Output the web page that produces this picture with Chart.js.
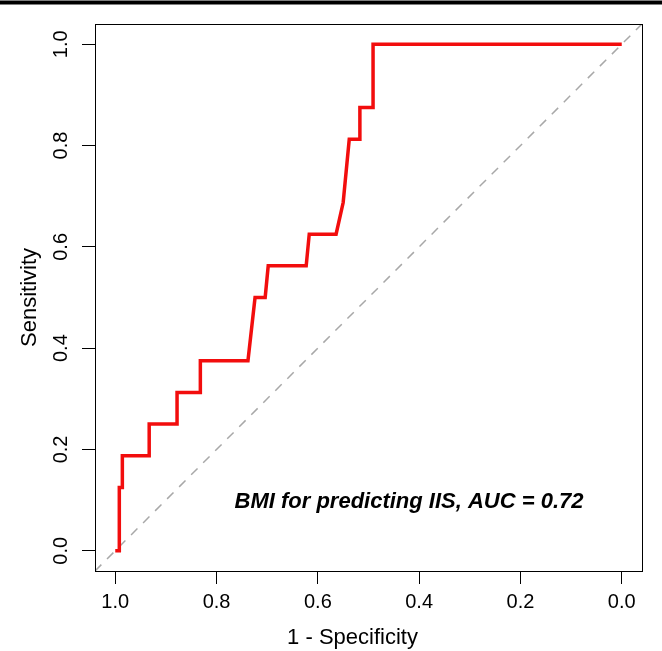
<!DOCTYPE html>
<html>
<head>
<meta charset="utf-8">
<title>ROC curve – BMI</title>
<script src="https://cdn.jsdelivr.net/npm/chart.js@4/dist/chart.umd.min.js"></script>
<style>
  html, body { margin: 0; padding: 0; background: #fff; }
  #wrap { width: 662px; height: 651px; position: relative; }
</style>
</head>
<body>
<div id="wrap"><canvas id="roc" width="662" height="651"></canvas></div>
<script>
// ROC curve points (specificity on a reversed axis, sensitivity)
const specificity = [1.000, 0.992, 0.992, 0.986, 0.986, 0.933, 0.933, 0.878, 0.878, 0.832, 0.832,
                     0.738, 0.724, 0.704, 0.698, 0.623, 0.617, 0.564, 0.550, 0.538, 0.517, 0.517,
                     0.491, 0.491, 0.000];
const sensitivity = [0.000, 0.000, 0.125, 0.125, 0.1875, 0.1875, 0.250, 0.250, 0.3125, 0.3125, 0.375,
                     0.375, 0.500, 0.500, 0.5625, 0.5625, 0.625, 0.625, 0.6875, 0.8125, 0.8125, 0.875,
                     0.875, 1.000, 1.000];

// chance diagonal, corner to corner of the plotting box
const chanceSpec = [1.04, -0.04];
const chanceSens = [-0.04, 1.04];

// axis ticks and texts
const tickValues = [0, 0.2, 0.4, 0.6, 0.8, 1.0];
const axisMin = -0.04;
const axisMax = 1.04;
const xTitle = '1 - Specificity';
const yTitle = 'Sensitivity';
const aucLabel = 'BMI for predicting IIS, AUC = 0.72';

const FONT = '"Liberation Sans", Arial, Helvetica, sans-serif';

const toPoints = (xs, ys) => xs.map((x, i) => ({ x: x, y: ys[i] }));

const setTicks = scale => { scale.ticks = tickValues.map(v => ({ value: v })); };

const decorations = {
  id: 'decorations',
  beforeDraw(chart) {
    const ctx = chart.ctx;
    ctx.save();
    ctx.fillStyle = '#fff';
    ctx.fillRect(0, 0, chart.width, chart.height);
    // heavy rule along the top edge
    ctx.fillStyle = '#000';
    ctx.fillRect(0, 0.5, chart.width, 4);
    ctx.restore();
  },
  afterDatasetsDraw(chart) {
    const { ctx, chartArea: a, scales } = chart;
    ctx.save();
    // box around the plotting region
    ctx.strokeStyle = '#000';
    ctx.lineWidth = 1;
    ctx.strokeRect(Math.round(a.left) + 0.5, Math.round(a.top) + 0.5,
                   Math.round(a.right - a.left), Math.round(a.bottom - a.top));
    // AUC annotation
    ctx.fillStyle = '#000';
    ctx.font = 'italic bold 22px ' + FONT;
    ctx.textAlign = 'center';
    ctx.textBaseline = 'alphabetic';
    ctx.fillText(aucLabel, scales.x.getPixelForValue(0.42), scales.y.getPixelForValue(0.085));
    // x axis title
    ctx.font = '22px ' + FONT;
    ctx.textBaseline = 'alphabetic';
    ctx.fillText(xTitle, (a.left + a.right) / 2 - 16, a.bottom + 73);
    ctx.restore();
  }
};

new Chart(document.getElementById('roc'), {
  type: 'scatter',
  data: {
    datasets: [
      {
        label: 'chance',
        data: toPoints(chanceSpec, chanceSens),
        showLine: true,
        borderColor: '#a8a8a8',
        borderWidth: 1.5,
        borderDash: [9, 8],
        pointRadius: 0,
        order: 2
      },
      {
        label: 'ROC',
        data: toPoints(specificity, sensitivity),
        showLine: true,
        borderColor: '#f20d0d',
        borderWidth: 3.5,
        borderJoinStyle: 'miter',
        pointRadius: 0,
        tension: 0,
        order: 1
      }
    ]
  },
  options: {
    responsive: false,
    animation: false,
    devicePixelRatio: 1,
    layout: { padding: { left: 0, right: 20, top: 24, bottom: 0 } },
    plugins: { legend: { display: false }, tooltip: { enabled: false } },
    scales: {
      x: {
        type: 'linear',
        reverse: true,
        min: axisMin,
        max: axisMax,
        afterBuildTicks: setTicks,
        afterFit: s => { s.height = 80; },
        grid: { display: true, drawOnChartArea: false, drawTicks: true, tickLength: 13, color: '#000', lineWidth: 1 },
        border: { display: true, color: '#000', width: 1 },
        ticks: {
          autoSkip: false,
          maxRotation: 0,
          padding: 6,
          color: '#000',
          font: { family: FONT, size: 20 },
          callback: v => Number(v).toFixed(1)
        }
      },
      y: {
        type: 'linear',
        min: axisMin,
        max: axisMax,
        afterBuildTicks: setTicks,
        afterFit: s => { s.width = 95; },
        grid: { display: true, drawOnChartArea: false, drawTicks: true, tickLength: 13, color: '#000', lineWidth: 1 },
        border: { display: true, color: '#000', width: 1 },
        title: {
          display: true,
          text: yTitle,
          color: '#000',
          font: { family: FONT, size: 22 },
          padding: { top: 17, bottom: 0 }
        },
        ticks: {
          autoSkip: false,
          minRotation: 90,
          maxRotation: 90,
          crossAlign: 'center',
          padding: 7,
          color: '#000',
          font: { family: FONT, size: 20 },
          callback: v => Number(v).toFixed(1)
        }
      }
    }
  },
  plugins: [decorations]
});
</script>
</body>
</html>
